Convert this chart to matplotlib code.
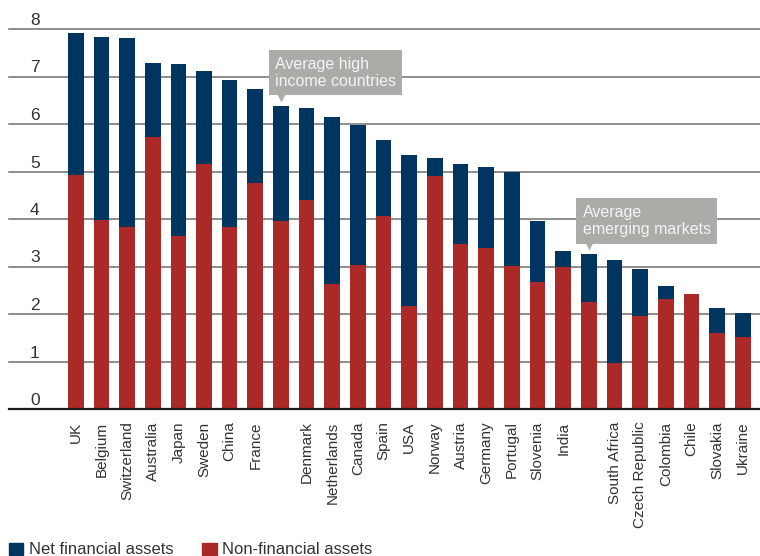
import matplotlib
matplotlib.use("Agg")
import matplotlib.pyplot as plt
from matplotlib.patches import Rectangle
from matplotlib.transforms import offset_copy

plt.rcParams["font.family"] = ["Liberation Sans", "DejaVu Sans"]

countries = ["UK", "Belgium", "Switzerland", "Australia", "Japan", "Sweden",
             "China", "France", "", "Denmark", "Netherlands", "Canada", "Spain",
             "USA", "Norway", "Austria", "Germany", "Portugal", "Slovenia",
             "India", "", "South Africa", "Czech Republic", "Colombia", "Chile",
             "Slovakia", "Ukraine"]
non_financial = [4.93, 3.98, 3.83, 5.73, 3.64, 5.16, 3.83, 4.76, 3.96, 4.40,
                 2.63, 3.03, 4.06, 2.17, 4.91, 3.47, 3.39, 3.01, 2.67, 2.99,
                 2.25, 0.97, 1.96, 2.32, 2.42, 1.60, 1.52]
net_financial = [2.99, 3.85, 3.98, 1.55, 3.62, 1.96, 3.10, 1.98, 2.42, 1.94,
                 3.52, 2.95, 1.60, 3.18, 0.37, 1.69, 1.70, 1.98, 1.29, 0.34,
                 1.01, 2.17, 0.99, 0.27, 0.00, 0.53, 0.50]
y_ticks = [0, 1, 2, 3, 4, 5, 6, 7, 8]
series_names = ["Net financial assets", "Non-financial assets"]
callouts = [(8, "Average high\nincome countries"),
            (20, "Average\nemerging markets")]

BLUE = "#00355F"
RED = "#AB2A27"
GRAY_BOX = "#ABACA7"
TXT = "#333333"

W, H = 760, 556
fig = plt.figure(figsize=(W / 100, H / 100), dpi=100)
ax = fig.add_axes([9 / W, 1 - 409 / H, 751 / W, 380 / H])

x = list(range(len(countries)))
ax.bar(x, non_financial, width=0.61, color=RED, zorder=2)
ax.bar(x, net_financial, bottom=non_financial, width=0.61, color=BLUE, zorder=2)

ax.set_xlim(-2.60, 26.67)
ax.set_ylim(0, 8)
for s in ax.spines.values():
    s.set_visible(False)
ax.set_yticks([])

for v in y_ticks[1:]:
    ax.axhline(v, color="#6f6f6f", lw=1.1, zorder=1, clip_on=False)
ax.axhline(0, color="#1a1a1a", lw=1.6, zorder=3, clip_on=False)

lab_tr = offset_copy(ax.transData, fig=fig, x=0, y=4, units="dots")
for v in y_ticks:
    ax.text(-1.59, v, str(v), transform=lab_tr, ha="center", va="baseline",
            fontsize=12.5, color=TXT)

ax.set_xticks(x)
ax.set_xticklabels(countries, rotation=90, fontsize=11, color=TXT)
ax.tick_params(axis="x", length=0, pad=9)

totals = [a + b for a, b in zip(non_financial, net_financial)]
for idx, label in callouts:
    ax.annotate(label, xy=(idx, totals[idx]), xytext=(-6, 17),
                textcoords="offset pixels", ha="left", va="bottom",
                fontsize=11.5, color="#F4F4F2", linespacing=1.2, zorder=5,
                bbox=dict(boxstyle="square,pad=0.4", fc=GRAY_BOX, ec="none"))
    tri_tr = offset_copy(ax.transData, fig=fig, x=0, y=8, units="dots")
    ax.plot([idx], [totals[idx]], marker="v", ms=5.8, color=GRAY_BOX,
            mec="none", transform=tri_tr, zorder=5, clip_on=False)

# legend
fig.add_artist(Rectangle((9 / W, (H - 555) / H), 14 / W, 12.5 / H,
                         transform=fig.transFigure, color=BLUE))
fig.add_artist(Rectangle((202 / W, (H - 555) / H), 15 / W, 12.5 / H,
                         transform=fig.transFigure, color=RED))
fig.text(29 / W, (H - 554.5) / H, series_names[0], fontsize=12, color=TXT,
         va="baseline", ha="left")
fig.text(222 / W, (H - 554.5) / H, series_names[1], fontsize=12, color=TXT,
         va="baseline", ha="left")

fig.savefig("out.png", dpi=100)
